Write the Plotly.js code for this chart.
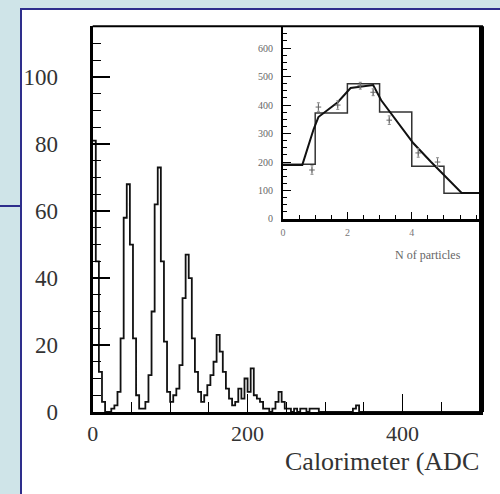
<!DOCTYPE html>
<html>
<head>
<meta charset="utf-8">
<script src="https://cdn.plot.ly/plotly-3.0.1.min.js"></script>
<style>html,body{margin:0;padding:0;background:#cfe4e8;}#chart{width:500px;height:494px;}</style>
</head>
<body>
<div id="chart"></div>
<script>
// Main histogram: calorimeter ADC spectrum, bins of width 4 starting at 0
var adcBinStart = 0;
var adcBinWidth = 4;
var adcCounts = [
  81, 45, 12, 3, 0, 0, 1, 2, 6, 22,
  58, 68, 50, 22, 5, 1, 1, 3, 11, 30,
  62, 73, 45, 21, 6, 3, 5, 7, 14, 34,
  47, 40, 22, 12, 6, 3, 5, 8, 11, 15,
  23, 18, 12, 7, 4, 2, 3, 7, 4, 10,
  6, 13, 5, 4, 3, 1, 1, 0, 1, 3,
  6, 3, 1, 1, 0, 1, 0, 1, 1, 0,
  1, 1, 1, 0, 0, 0, 0, 0, 0, 0,
  0, 0, 0, 0, 1, 2, 0, 0, 0, 0,
  0, 0, 0, 0, 0, 0, 0, 0, 0, 0,
  0, 0, 0, 0, 0, 0, 0, 0, 0, 0,
  0, 0, 0, 0, 0, 0, 0, 0, 0, 0,
  0, 0, 0, 0, 0, 0
];
var mainXTicks = [0, 200, 400];
var mainYTicks = [0, 20, 40, 60, 80, 100];

// Inset: number of particles
var nEdges = [0, 1, 2, 3, 4, 5, 6];
var nCounts = [192, 372, 475, 376, 185, 90];
var curveX = [0, 0.6, 0.95, 1.1, 1.7, 2.1, 2.8, 3.05, 4.05, 4.6, 5.55, 6.1];
var curveY = [190, 190, 315, 358, 410, 460, 470, 417, 266, 200, 91, 91];
var pointsX = [0.9, 1.1, 1.7, 2.4, 2.8, 3.3, 4.2, 4.8];
var pointsY = [172, 393, 400, 468, 445, 347, 232, 200];
var pointsErr = [15, 15, 15, 12, 12, 15, 15, 15];
var insetXTicks = [0, 2, 4];
var insetYTicks = [0, 100, 200, 300, 400, 500, 600];

var mx = [], my = [];
for (var i = 0; i < adcCounts.length; i++) {
  mx.push(adcBinStart + i * adcBinWidth);
  my.push(adcCounts[i]);
}
mx.push(adcBinStart + adcCounts.length * adcBinWidth);
my.push(adcCounts[adcCounts.length - 1]);

var ix = nEdges.slice();
var iy = nCounts.concat([nCounts[nCounts.length - 1]]);

var serif = 'Liberation Serif, Times New Roman, serif';
var traces = [
  {x: mx, y: my, type: 'scatter', mode: 'lines', line: {shape: 'hv', color: '#111', width: 1.8}, xaxis: 'x', yaxis: 'y', hoverinfo: 'skip'},
  {x: ix, y: iy, type: 'scatter', mode: 'lines', line: {shape: 'hv', color: '#333', width: 1.5}, xaxis: 'x2', yaxis: 'y2', hoverinfo: 'skip'},
  {x: curveX, y: curveY, type: 'scatter', mode: 'lines', line: {color: '#111', width: 2}, xaxis: 'x2', yaxis: 'y2', hoverinfo: 'skip'},
  {x: pointsX, y: pointsY, type: 'scatter', mode: 'markers', marker: {symbol: 'cross-thin', size: 4, line: {color: '#666', width: 1}},
   error_y: {type: 'data', array: pointsErr, color: '#888', thickness: 1, width: 1.5}, xaxis: 'x2', yaxis: 'y2', hoverinfo: 'skip'}
];

var layout = {
  width: 500, height: 494,
  margin: {l: 0, r: 0, t: 0, b: 0},
  paper_bgcolor: '#cfe4e8',
  plot_bgcolor: '#ffffff',
  showlegend: false,
  xaxis: {
    domain: [0.1854, 0.966], range: [0, 504], anchor: 'y',
    tickmode: 'array', tickvals: mainXTicks,
    ticks: 'inside', ticklen: 18, tickwidth: 1.5, tickcolor: '#000',
    showline: true, linewidth: 3, linecolor: '#000', mirror: false,
    showgrid: false, zeroline: false,
    tickfont: {family: serif, size: 22, color: '#333'},
    ticklabelstandoff: 0,
    minor: {ticks: 'inside', ticklen: 10, dtick: 50, tick0: 0, tickcolor: '#000', tickwidth: 1}
  },
  yaxis: {
    domain: [0.166, 0.947], range: [0, 115.2], anchor: 'x',
    tickmode: 'array', tickvals: mainYTicks,
    ticks: 'inside', ticklen: 17, tickwidth: 1.5, tickcolor: '#000',
    showline: true, linewidth: 3, linecolor: '#000', mirror: false,
    showgrid: false, zeroline: false,
    tickfont: {family: serif, size: 23, color: '#333'},
    ticklabelstandoff: 27,
    minor: {ticks: 'inside', ticklen: 8, dtick: 5, tick0: 0, tickcolor: '#000', tickwidth: 1}
  },
  xaxis2: {
    domain: [0.566, 0.962], range: [0, 6.15], anchor: 'y2',
    tickmode: 'array', tickvals: insetXTicks,
    ticks: 'inside', ticklen: 7, tickwidth: 1, tickcolor: '#000',
    showline: true, linewidth: 3, linecolor: '#000', mirror: false,
    showgrid: false, zeroline: false,
    tickfont: {family: serif, size: 10, color: '#777'},
    ticklabelstandoff: 2,
    minor: {ticks: 'inside', ticklen: 4, dtick: 0.5, tick0: 0, tickcolor: '#000', tickwidth: 1}
  },
  yaxis2: {
    domain: [0.5567, 0.947], range: [0, 677], anchor: 'x2',
    tickmode: 'array', tickvals: insetYTicks,
    ticks: 'inside', ticklen: 8, tickwidth: 1, tickcolor: '#000',
    showline: true, linewidth: 2, linecolor: '#000', mirror: false,
    showgrid: false, zeroline: false,
    tickfont: {family: serif, size: 10, color: '#666'},
    ticklabelstandoff: 6,
    minor: {ticks: 'inside', ticklen: 4, dtick: 25, tick0: 0, tickcolor: '#000', tickwidth: 1}
  },
  shapes: [
    {type: 'rect', xref: 'paper', yref: 'paper', x0: 0.042, x1: 1.02, y0: -0.02, y1: 0.9818,
     line: {color: '#2e2e8c', width: 2}, fillcolor: '#ffffff', layer: 'below'},
    {type: 'line', xref: 'paper', yref: 'paper', x0: 0, x1: 0.042, y0: 0.583, y1: 0.583,
     line: {color: '#2e2e8c', width: 2}},
    {type: 'line', xref: 'paper', yref: 'paper', x0: 0.1854, x1: 0.966, y0: 0.947, y1: 0.947,
     line: {color: '#000', width: 2}},
    {type: 'line', xref: 'paper', yref: 'paper', x0: 0.963, x1: 0.963, y0: 0.166, y1: 0.947,
     line: {color: '#000', width: 5}}
  ],
  annotations: [
    {text: 'Calorimeter (ADC', xref: 'paper', yref: 'paper', x: 0.962, y: 0.0668,
     xanchor: 'right', yanchor: 'middle', showarrow: false,
     font: {family: serif, size: 26, color: '#333'}},
    {text: 'N of particles', xref: 'paper', yref: 'paper', x: 0.856, y: 0.4838,
     xanchor: 'center', yanchor: 'middle', showarrow: false,
     font: {family: serif, size: 12, color: '#666'}}
  ]
};

Plotly.newPlot('chart', traces, layout, {staticPlot: true, displayModeBar: false});
</script>
</body>
</html>
